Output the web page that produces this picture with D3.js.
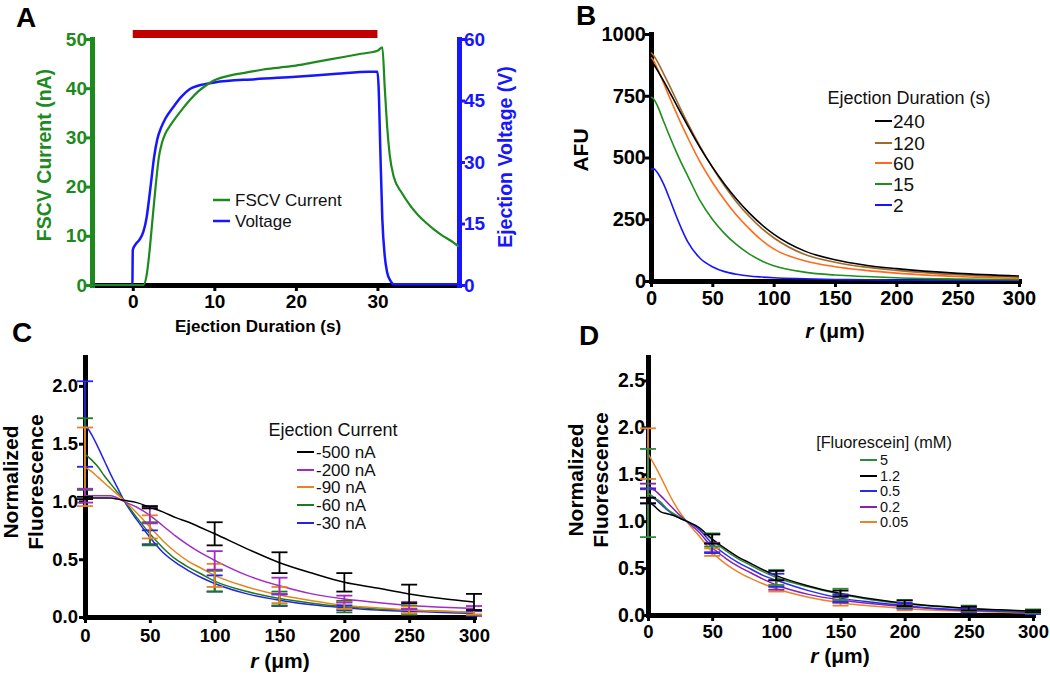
<!DOCTYPE html>
<html><head><meta charset="utf-8">
<script src="https://cdn.jsdelivr.net/npm/d3@7"></script>
<style>body{margin:0;background:#fff} svg{display:block}</style>
</head><body><svg id="c" width="1050" height="675"></svg>
<script>
// ---------------- DATA ----------------
// Panel A
const aTimeTicks = [0, 10, 20, 30];
const aCurrentTicks = [0, 10, 20, 30, 40, 50];
const aVoltageTicks = [0, 15, 30, 45, 60];
const aEjection = [0, 30];
const aCurrentT = [-5,1.3,1.7,2.0,2.4,2.8,3.2,3.6,4.0,4.5,5,6,7,8,9,10,12,14,16,18,20,22,24,26,28,30,30.6,30.9,31.2,31.5,32,33,34,35,36,37,38,39,40];
const aCurrent  = [0,0,2,6,13,20,26,29,30.8,32.2,33.4,35.6,37.6,39.3,40.6,41.6,42.6,43.2,43.8,44.2,44.6,45.2,45.8,46.4,47,47.6,48.3,40,32,26.5,22,18.7,16.2,14.2,12.6,11.2,10,9,7.8];
const aVoltageT = [-5,-0.05,0,0.3,0.8,1.3,1.7,2.0,2.3,2.6,3.0,3.5,4,5,6,7,8,10,15,20,25,29,30,30.15,30.35,30.6,30.9,31.2,31.6,32,40];
const aVoltage  = [0,0,8.5,9.8,11,13,16.5,21,26,31,35.5,38.5,40.6,43.5,46,47.8,48.6,49.4,50.2,50.8,51.5,52,52,48,33,16,7,3,1,0.2,0.2];
const aLegend = ["FSCV Current", "Voltage"];

// Panel B
const bTicksX = [0, 50, 100, 150, 200, 250, 300];
const bTicksY = [0, 250, 500, 750, 1000];
const bR   = [0,2,5,10,15,20,25,30,40,50,60,70,80,90,100,125,150,175,200,250,300];
const b240 = [885,878,855,812,767,720,674,628,540,462,392,330,276,229,190,122,86,64,50,31,20];
const b120 = [925,914,890,842,792,740,688,638,545,460,384,318,262,214,175,108,76,56,43,25,15];
const b60  = [905,893,862,805,745,688,632,580,482,400,328,265,212,166,130,82,58,43,32,18,10];
const b15  = [745,738,712,650,588,530,475,425,325,250,192,146,110,82,62,36,24,18,13,8,5];
const b2   = [450,455,440,395,335,270,210,158,92,58,38,27,20,16,13,9,6,5,4,3,2];
const bLabels = ["240", "120", "60", "15", "2"];

// Panels C and D share the radial grid and error-bar positions
const rGrid = [0,5,10,15,20,25,30,40,50,60,70,80,90,100,125,150,175,200,225,250,275,300];
const errR = [0, 50, 100, 150, 200, 250, 300];
const cdTicksX = [0, 50, 100, 150, 200, 250, 300];

// Panel C
const cTicksY = [0, 0.5, 1.0, 1.5, 2.0];
const cLabels = ["-500 nA", "-200 nA", "-90 nA", "-60 nA", "-30 nA"];
const c500 = [1.03,1.03,1.03,1.03,1.03,1.02,1.01,0.99,0.95,0.91,0.86,0.82,0.77,0.72,0.59,0.47,0.38,0.30,0.25,0.20,0.16,0.13];
const c200 = [1.05,1.05,1.05,1.05,1.05,1.03,1.0,0.95,0.88,0.79,0.70,0.62,0.55,0.49,0.36,0.27,0.20,0.155,0.125,0.10,0.085,0.075];
const c90  = [1.30,1.26,1.21,1.16,1.11,1.06,1.01,0.90,0.78,0.66,0.56,0.48,0.42,0.36,0.26,0.19,0.14,0.10,0.08,0.06,0.05,0.04];
const c60  = [1.41,1.36,1.30,1.22,1.15,1.08,1.01,0.86,0.72,0.60,0.50,0.43,0.37,0.31,0.22,0.16,0.12,0.09,0.07,0.06,0.05,0.04];
const c30  = [1.67,1.58,1.47,1.35,1.23,1.12,1.01,0.84,0.69,0.56,0.47,0.40,0.34,0.29,0.20,0.145,0.105,0.08,0.06,0.05,0.04,0.03];
const cErr500 = [0.01,0.01,0.10,0.09,0.08,0.08,0.07];
const cErr200 = [0.06,0.07,0.08,0.07,0.03,0.03,0.02];
const cErr90  = [0.34,0.10,0.10,0.07,0.03,0.03,0.02];
const cErr60  = [0.31,0.10,0.09,0.06,0.05,0.04,0.02];
const cErr30  = [0.37,0.06,0.07,0.05,0.02,0.02,0.02];

// Panel D
const dTicksY = [0, 0.5, 1.0, 1.5, 2.0, 2.5];
const dLabels = ["5", "1.2", "0.5", "0.2", "0.05"];
const d5   = [1.30,1.25,1.20,1.13,1.08,1.04,1.00,0.93,0.80,0.69,0.60,0.53,0.46,0.40,0.30,0.22,0.16,0.12,0.09,0.07,0.05,0.04];
const d12  = [1.22,1.16,1.10,1.08,1.06,1.03,1.00,0.93,0.81,0.71,0.62,0.55,0.48,0.42,0.31,0.23,0.17,0.125,0.095,0.07,0.055,0.04];
const d05  = [1.27,1.24,1.18,1.12,1.07,1.03,1.00,0.91,0.76,0.65,0.56,0.49,0.42,0.37,0.26,0.18,0.135,0.10,0.07,0.055,0.04,0.03];
const d02  = [1.37,1.33,1.27,1.20,1.13,1.06,1.00,0.88,0.72,0.61,0.52,0.45,0.38,0.32,0.22,0.16,0.12,0.09,0.065,0.05,0.04,0.03];
const d005 = [1.72,1.60,1.47,1.33,1.20,1.09,1.00,0.84,0.67,0.55,0.46,0.39,0.33,0.28,0.19,0.13,0.095,0.07,0.05,0.04,0.03,0.02];
const dErr5   = [0.47,0.07,0.08,0.06,0.04,0.03,0.02];
const dErr12  = [0.03,0.05,0.05,0.03,0.03,0.02,0.01];
const dErr05  = [0.08,0.10,0.07,0.04,0.03,0.02,0.02];
const dErr02  = [0.03,0.05,0.05,0.03,0.02,0.02,0.01];
const dErr005 = [0.27,0.04,0.03,0.03,0.02,0.01,0.01];

// ---------------- DRAWING ----------------
const FONT = '"Liberation Sans", Arial, Helvetica, sans-serif';
const svg = d3.select('#c');
svg.append('rect').attr('width',1050).attr('height',675).attr('fill','#fff');

function styleAxis(g, color, fs) {
  g.attr('font-family', FONT);
  g.select('.domain').attr('stroke', color).attr('stroke-width', 5).attr('stroke-linecap', 'square');
  g.selectAll('.tick line').attr('stroke', color).attr('stroke-width', 3);
  g.selectAll('.tick text').attr('fill', color).attr('font-size', fs).attr('font-weight', 'bold');
}
function vTitle(x, y, txt, color, fs) {
  svg.append('text').attr('transform', `translate(${x},${y}) rotate(-90)`)
    .attr('text-anchor', 'middle').attr('font-family', FONT).attr('font-weight', 'bold')
    .attr('font-size', fs).attr('fill', color).text(txt);
}
function rTitle(x, y, fs) {
  const t = svg.append('text').attr('x', x).attr('y', y).attr('text-anchor', 'middle')
    .attr('font-family', FONT).attr('font-weight', 'bold').attr('font-size', fs);
  t.append('tspan').attr('font-style', 'italic').text('r');
  t.append('tspan').text(' (\u03bcm)');
}
function letter(x, y, L) {
  svg.append('text').attr('x', x).attr('y', y).attr('font-family', FONT)
    .attr('font-weight', 'bold').attr('font-size', 28).text(L);
}
function drawLine(xs, ys, xS, yS, color, w) {
  const pts = xs.map((v, i) => [v, ys[i]]);
  svg.append('path').datum(pts).attr('fill', 'none').attr('stroke', color)
    .attr('stroke-width', w).attr('stroke-linejoin', 'round')
    .attr('d', d3.line().x(d => xS(d[0])).y(d => yS(d[1])).curve(d3.curveMonotoneX));
}
function drawErr(series, errs, xS, yS, color) {
  const g = svg.append('g').attr('stroke', color).attr('stroke-width', 1.8);
  errR.forEach((r, i) => {
    const m = series[rGrid.indexOf(r)], e = errs[i];
    const x = xS(r), y1 = yS(m + e), y2 = yS(Math.max(0, m - e));
    g.append('line').attr('x1', x).attr('x2', x).attr('y1', y1).attr('y2', y2);
    g.append('line').attr('x1', x - 8).attr('x2', x + 8).attr('y1', y1).attr('y2', y1);
    g.append('line').attr('x1', x - 8).attr('x2', x + 8).attr('y1', y2).attr('y2', y2);
  });
}
function legend(x0, x1, tx, ys, labels, colors, fs, w) {
  labels.forEach((l, i) => {
    svg.append('line').attr('x1', x0).attr('x2', x1).attr('y1', ys[i]).attr('y2', ys[i])
      .attr('stroke', colors[i]).attr('stroke-width', w);
    svg.append('text').attr('x', tx).attr('y', ys[i]).attr('dy', '0.35em')
      .attr('font-family', FONT).attr('font-size', fs).attr('fill', '#111').text(l);
  });
}

// ----- Panel A -----
const AG = '#1e8a1e', AB = '#1616ff';
const xA = d3.scaleLinear([-5, 40], [92, 459]);
const yAL = d3.scaleLinear([0, 50], [285, 39]);
const yAR = d3.scaleLinear([0, 60], [285, 39]);
letter(16, 27, 'A');
svg.append('rect').attr('x', xA(aEjection[0])).attr('width', xA(aEjection[1]) - xA(aEjection[0]))
  .attr('y', 30).attr('height', 8).attr('fill', '#c00000');
styleAxis(svg.append('g').attr('transform', 'translate(0,285)')
  .call(d3.axisBottom(xA).tickValues(aTimeTicks).tickSize(6).tickPadding(3.5).tickSizeOuter(0)), '#000', 19);
styleAxis(svg.append('g').attr('transform', 'translate(92,0)')
  .call(d3.axisLeft(yAL).tickValues(aCurrentTicks).tickSize(6).tickPadding(-1).tickSizeOuter(0)), AG, 19);
styleAxis(svg.append('g').attr('transform', 'translate(459,0)')
  .call(d3.axisRight(yAR).tickValues(aVoltageTicks).tickSize(6).tickPadding(-1).tickSizeOuter(0)), AB, 19);
drawLine(aVoltageT, aVoltage, xA, yAR, AB, 2.5);
drawLine(aCurrentT, aCurrent, xA, yAL, AG, 2.2);
vTitle(51, 155, 'FSCV Current (nA)', AG, 19.5);
vTitle(512, 157, 'Ejection Voltage (V)', AB, 19.5);
svg.append('text').attr('x', 258).attr('y', 332).attr('text-anchor', 'middle').attr('font-family', FONT)
  .attr('font-weight', 'bold').attr('font-size', 17).text('Ejection Duration (s)');
legend(213, 230, 235, [200, 221], aLegend, [AG, AB], 17, 2.5);

// ----- Panel B -----
const xB = d3.scaleLinear([0, 300], [651, 1019]);
const yB = d3.scaleLinear([0, 1000], [281, 34]);
const bColors = ['#000000', '#a06a2c', '#ff6a1a', '#1d8f1d', '#1515ff'];
letter(576, 25, 'B');
styleAxis(svg.append('g').attr('transform', 'translate(0,281)')
  .call(d3.axisBottom(xB).tickValues(bTicksX).tickSize(6).tickPadding(4).tickSizeOuter(0)), '#000', 20);
styleAxis(svg.append('g').attr('transform', 'translate(651,0)')
  .call(d3.axisLeft(yB).tickValues(bTicksY).tickFormat(d3.format('d')).tickSize(6).tickPadding(-1).tickSizeOuter(0)), '#000', 20);
[b2, b15, b60, b120, b240].forEach((s, i) => drawLine(bR, s, xB, yB, bColors[4 - i], 1.6));
vTitle(588, 150, 'AFU', '#000', 21);
rTitle(835, 338, 21);
svg.append('text').attr('x', 909).attr('y', 98).attr('dy', '0.35em').attr('text-anchor', 'middle')
  .attr('font-family', FONT).attr('font-size', 18).attr('fill', '#111').text('Ejection Duration (s)');
legend(875, 892, 893, [121, 143, 163, 184, 205], bLabels, bColors, 19, 2);

// ----- Panel C -----
const xC = d3.scaleLinear([0, 300], [85, 474]);
const yC = d3.scaleLinear([0, 2.25], [617, 357]);
const cColors = ['#000000', '#a02cc8', '#e8841f', '#1e7a1e', '#2424e6'];
letter(12, 342, 'C');
styleAxis(svg.append('g').attr('transform', 'translate(0,617)')
  .call(d3.axisBottom(xC).tickValues(cdTicksX).tickSize(6).tickPadding(5.5).tickSizeOuter(0)), '#000', 18.5);
styleAxis(svg.append('g').attr('transform', 'translate(85,0)')
  .call(d3.axisLeft(yC).tickValues(cTicksY).tickFormat(d3.format('.1f')).tickSize(6).tickPadding(1).tickSizeOuter(0)), '#000', 18.5);
const cSeries = [c500, c200, c90, c60, c30], cErrs = [cErr500, cErr200, cErr90, cErr60, cErr30];
[4, 3, 2, 1, 0].forEach(i => { drawLine(rGrid, cSeries[i], xC, yC, cColors[i], 1.5); });
[4, 3, 2, 1, 0].forEach(i => { drawErr(cSeries[i], cErrs[i], xC, yC, cColors[i]); });
vTitle(18, 482, 'Normalized', '#000', 21);
vTitle(43, 482, 'Fluorescence', '#000', 21);
rTitle(280, 668, 21);
svg.append('text').attr('x', 333).attr('y', 430).attr('dy', '0.35em').attr('text-anchor', 'middle')
  .attr('font-family', FONT).attr('font-size', 18).attr('fill', '#111').text('Ejection Current');
legend(297, 314, 316, [452, 470, 487, 505, 523], cLabels, cColors, 17, 2);

// ----- Panel D -----
const xD = d3.scaleLinear([0, 300], [648, 1033]);
const yD = d3.scaleLinear([0, 2.75], [615, 357]);
const dColors = ['#2e8b3a', '#000000', '#2a2aee', '#8a1fb5', '#e8842a'];
letter(579, 345, 'D');
styleAxis(svg.append('g').attr('transform', 'translate(0,615)')
  .call(d3.axisBottom(xD).tickValues(cdTicksX).tickSize(6).tickPadding(3.5).tickSizeOuter(0)), '#000', 18.5);
styleAxis(svg.append('g').attr('transform', 'translate(648,0)')
  .call(d3.axisLeft(yD).tickValues(dTicksY).tickFormat(d3.format('.1f')).tickSize(5).tickPadding(-2).tickSizeOuter(0)), '#000', 19.5);
const dSeries = [d5, d12, d05, d02, d005], dErrs = [dErr5, dErr12, dErr05, dErr02, dErr005];
[4, 3, 2, 0, 1].forEach(i => { drawLine(rGrid, dSeries[i], xD, yD, dColors[i], 1.5); });
[4, 3, 2, 0, 1].forEach(i => { drawErr(dSeries[i], dErrs[i], xD, yD, dColors[i]); });
vTitle(583, 480, 'Normalized', '#000', 21);
vTitle(608, 480, 'Fluorescence', '#000', 21);
rTitle(840, 663, 21);
svg.append('text').attr('x', 884).attr('y', 442).attr('dy', '0.35em').attr('text-anchor', 'middle')
  .attr('font-family', FONT).attr('font-size', 16.3).attr('fill', '#111').text('[Fluorescein] (mM)');
legend(860, 877, 880, [460, 476, 491, 507, 522], dLabels, dColors, 14.5, 2);
</script></body></html>
